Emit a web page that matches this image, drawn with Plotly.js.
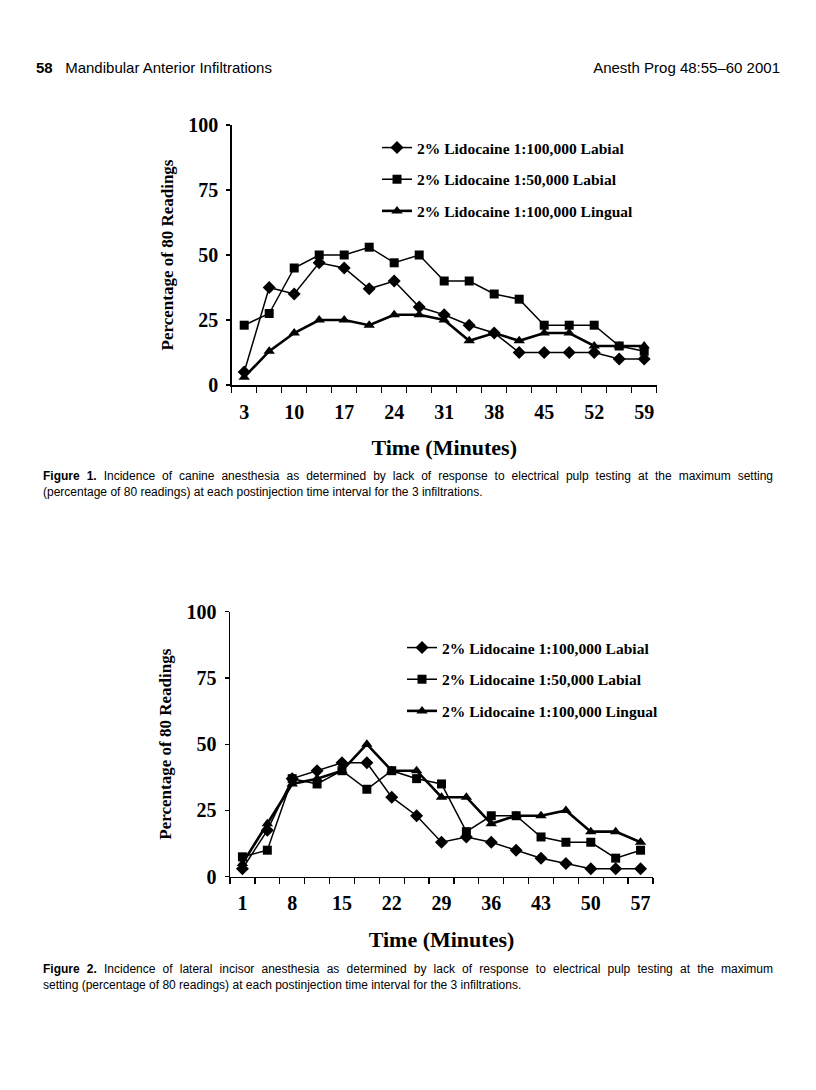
<!DOCTYPE html>
<html>
<head>
<meta charset="utf-8">
<script src="https://cdn.plot.ly/plotly-3.0.1.min.js"></script>
<style>
  html, body { margin: 0; padding: 0; background: #fff; }
  #page { position: relative; width: 816px; height: 1090px; overflow: hidden; }
  #chart { position: absolute; left: 0; top: 0; width: 816px; height: 1090px; }
  .txt { position: absolute; font-family: "Liberation Sans", Arial, sans-serif; color: #000; white-space: nowrap; }
  .hdr { font-size: 15px; line-height: 16px; top: 60px; }
  .cap { font-size: 12px; line-height: 16px; left: 43px; width: 730px; }
  .just { text-align: justify; text-align-last: justify; }
</style>
</head>
<body>
<div id="page">
  <div id="chart"></div>
  <div class="txt hdr" style="left:36px;"><b>58</b>&nbsp;&nbsp;&nbsp;Mandibular Anterior Infiltrations</div>
  <div class="txt hdr" style="right:36px;">Anesth Prog 48:55–60 2001</div>
  <div class="txt cap just" style="top:468px;"><b>Figure 1.</b> Incidence of canine anesthesia as determined by lack of response to electrical pulp testing at the maximum setting</div>
  <div class="txt cap" style="top:484px;">(percentage of 80 readings) at each postinjection time interval for the 3 infiltrations.</div>
  <div class="txt cap just" style="top:961px;"><b>Figure 2.</b> Incidence of lateral incisor anesthesia as determined by lack of response to electrical pulp testing at the maximum</div>
  <div class="txt cap" style="top:977px;">setting (percentage of 80 readings) at each postinjection time interval for the 3 infiltrations.</div>
</div>
<script>
// ---------- Data ----------
// Figure 1: canine
const times1 = [3, 6.5, 10, 13.5, 17, 20.5, 24, 27.5, 31, 34.5, 38, 41.5, 45, 48.5, 52, 55.5, 59];
const tickLabels1 = [3, 10, 17, 24, 31, 38, 45, 52, 59];
const canineLabial100 = [5, 37.5, 35, 47, 45, 37, 40, 30, 27, 23, 20, 12.5, 12.5, 12.5, 12.5, 10, 10];
const canineLabial50 = [23, 27.5, 45, 50, 50, 53, 47, 50, 40, 40, 35, 33, 23, 23, 23, 15, 13];
const canineLingual100 = [3, 13, 20, 25, 25, 23, 27, 27, 25, 17, 20, 17, 20, 20, 15, 15, 15];

// Figure 2: lateral incisor
const times2 = [1, 4.5, 8, 11.5, 15, 18.5, 22, 25.5, 29, 32.5, 36, 39.5, 43, 46.5, 50, 53.5, 57];
const tickLabels2 = [1, 8, 15, 22, 29, 36, 43, 50, 57];
const incisorLabial100 = [3, 17.5, 37, 40, 43, 43, 30, 23, 13, 15, 13, 10, 7, 5, 3, 3, 3];
const incisorLabial50 = [7.5, 10, 37, 35, 40, 33, 40, 37, 35, 17, 23, 23, 15, 13, 13, 7, 10];
const incisorLingual100 = [5, 20, 35, 37, 40, 50, 40, 40, 30, 30, 20, 23, 23, 25, 17, 17, 13];

const seriesNames = ['2% Lidocaine 1:100,000 Labial', '2% Lidocaine 1:50,000 Labial', '2% Lidocaine 1:100,000 Lingual'];
const yTickVals = [0, 25, 50, 75, 100];

// ---------- Helpers ----------
const W = 816, H = 1090;
const px = v => v / W;
const py = v => 1 - v / H;
const serif = 'Liberation Serif, Times New Roman, serif';

function boundaries(t) {
  const b = [];
  b.push(t[0] - (t[1] - t[0]) / 2);
  for (let i = 0; i < t.length - 1; i++) b.push((t[i] + t[i + 1]) / 2);
  b.push(t[t.length - 1] + (t[t.length - 1] - t[t.length - 2]) / 2);
  return b;
}

const styles = [
  {symbol: 'diamond', size: 10, width: 1.5},
  {symbol: 'square', size: 9, width: 1.5},
  {symbol: 'triangle-up', size: 10, width: 2.6}
];

function makeTraces(t, ys, xa, ya, legendId) {
  return ys.map((y, i) => ({
    x: t, y: y, xaxis: xa, yaxis: ya,
    type: 'scatter', mode: 'lines+markers',
    name: seriesNames[i],
    legend: legendId, legendgroup: legendId + i,
    line: {color: '#000', width: styles[i].width},
    marker: {symbol: styles[i].symbol, size: styles[i].size, color: '#000'},
    cliponaxis: false
  }));
}

const traces = [
  ...makeTraces(times1, [canineLabial100, canineLabial50, canineLingual100], 'x', 'y', 'legend'),
  ...makeTraces(times2, [incisorLabial100, incisorLabial50, incisorLingual100], 'x2', 'y2', 'legend2')
];

function xAxis(t, labels, domain, anchor) {
  const b = boundaries(t);
  return {
    domain: domain, anchor: anchor,
    range: [b[0], b[b.length - 1]],
    tickmode: 'array', tickvals: labels, ticktext: labels.map(String),
    ticks: '', showgrid: false, zeroline: false,
    showline: true, linecolor: '#000', linewidth: 1.5,
    tickfont: {family: serif, size: 20, color: '#000', weight: 'bold'},
    ticklabelstandoff: 8,
    minor: {tickmode: 'array', tickvals: b, ticks: 'outside', ticklen: 6, tickwidth: 1.3, tickcolor: '#000', showgrid: false},
    title: {text: '<b>Time (Minutes)</b>', font: {family: serif, size: 22, color: '#000'}, standoff: 18}
  };
}

function yAxis(domain, anchor) {
  return {
    domain: domain, anchor: anchor,
    range: [0, 100], tickmode: 'array', tickvals: yTickVals,
    ticks: 'outside', ticklen: 4, tickwidth: 1.3, tickcolor: '#000',
    showgrid: false, zeroline: false,
    showline: true, linecolor: '#000', linewidth: 1.5,
    tickfont: {family: serif, size: 20, color: '#000', weight: 'bold'},
    ticklabelstandoff: 4,
    title: {text: '<b>Percentage of 80 Readings</b>', font: {family: serif, size: 17, color: '#000'}, standoff: 10}
  };
}

const legendBase = {
  xanchor: 'left', yanchor: 'top',
  font: {family: serif, size: 15.5, color: '#000', weight: 'bold'},
  bgcolor: 'rgba(0,0,0,0)', borderwidth: 0,
  traceorder: 'grouped', tracegroupgap: 8.5,
  itemwidth: 30
};

const layout = {
  width: W, height: H,
  margin: {l: 0, r: 0, t: 0, b: 0},
  paper_bgcolor: 'rgba(0,0,0,0)', plot_bgcolor: 'rgba(0,0,0,0)',
  showlegend: true,
  xaxis: xAxis(times1, tickLabels1, [px(231.7), px(656.7)], 'y'),
  yaxis: yAxis([py(385), py(125)], 'x'),
  xaxis2: xAxis(times2, tickLabels2, [px(230), px(653)], 'y2'),
  yaxis2: yAxis([py(876.7), py(611.7)], 'x2'),
  legend: Object.assign({}, legendBase, {x: px(377), y: py(131)}),
  legend2: Object.assign({}, legendBase, {x: px(402), y: py(631)})
};

Plotly.newPlot('chart', traces, layout, {displayModeBar: false, staticPlot: true});
</script>
</body>
</html>
